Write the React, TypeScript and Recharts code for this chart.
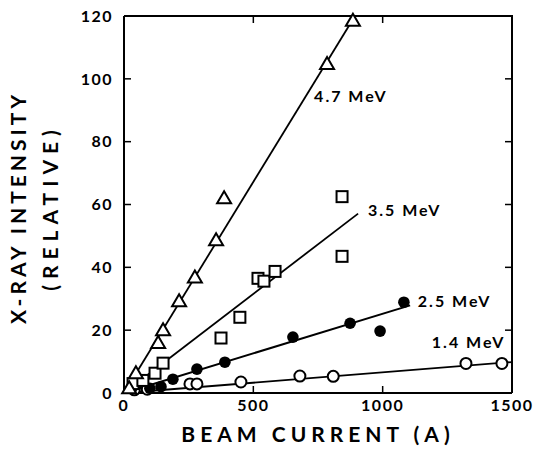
import React from 'react';
import { ComposedChart, Scatter, XAxis, YAxis } from 'recharts';

const xTicks = [0, 500, 1000, 1500];
const yTicks = [0, 20, 40, 60, 80, 100, 120];
const X_MAX = 1500;
const Y_MAX = 120;

const tri47 = [
  { x: 20, y: 1.5 }, { x: 46, y: 6.3 }, { x: 132, y: 15.9 }, { x: 151, y: 20 },
  { x: 213, y: 29.2 }, { x: 274, y: 36.8 }, { x: 356, y: 48.6 }, { x: 387, y: 62 },
  { x: 785, y: 104.7 }, { x: 885, y: 118.5 },
];
const sq35 = [
  { x: 35, y: 3 }, { x: 73, y: 4 }, { x: 120, y: 6.3 }, { x: 151, y: 9.5 },
  { x: 375, y: 17.5 }, { x: 448, y: 24.1 }, { x: 518, y: 36.5 }, { x: 541, y: 35.6 },
  { x: 584, y: 38.7 }, { x: 843, y: 43.5 }, { x: 843, y: 62.5 },
];
const dot25 = [
  { x: 30, y: 1.5 }, { x: 62, y: 3.5 }, { x: 100, y: 1.5 }, { x: 143, y: 2 },
  { x: 189, y: 4.4 }, { x: 282, y: 7.6 }, { x: 390, y: 9.8 }, { x: 653, y: 17.8 },
  { x: 874, y: 22.2 }, { x: 990, y: 19.7 }, { x: 1082, y: 28.9 },
];
const circ14 = [
  { x: 40, y: 1 }, { x: 90, y: 1.2 }, { x: 255, y: 2.9 }, { x: 282, y: 2.9 },
  { x: 452, y: 3.5 }, { x: 680, y: 5.4 }, { x: 809, y: 5.3 }, { x: 1322, y: 9.4 },
  { x: 1461, y: 9.4 },
];

const fit47 = [{ x: 0, y: 0 }, { x: 893, y: 120 }];
const fit35 = [{ x: 0, y: 0 }, { x: 905, y: 57.1 }];
const fit25 = [{ x: 0, y: 0 }, { x: 1106, y: 27.9 }];
const fit14 = [{ x: 0, y: 0 }, { x: 1500, y: 9.85 }];

const seriesLabels = [
  { x: 735, y: 94, text: '4.7 MeV' },
  { x: 943, y: 57.5, text: '3.5 MeV' },
  { x: 1136, y: 28.6, text: '2.5 MeV' },
  { x: 1190, y: 15.6, text: '1.4 MeV' },
];

const xTitle = 'BEAM CURRENT (A)';
const yTitle1 = 'X-RAY  INTENSITY';
const yTitle2 = '(RELATIVE)';

const framePts = [{ x: 0, y: Y_MAX }, { x: X_MAX, y: Y_MAX }, { x: X_MAX, y: 0 }];
const innerX = xTicks.slice(1, -1);
const innerY = yTicks.slice(1, -1);
const tickMarks = [
  ...innerX.map((x) => ({ x, y: 0, d: 'up' })),
  ...innerX.map((x) => ({ x, y: Y_MAX, d: 'down' })),
  ...innerY.map((y) => ({ x: 0, y, d: 'right' })),
  ...innerY.map((y) => ({ x: X_MAX, y, d: 'left' })),
];
const titleAnchors = [
  { x: X_MAX / 2, y: 0, d: 'x' },
  { x: 0, y: Y_MAX / 2, d: 'y' },
];

const FONT = 'Lato, "DejaVu Sans", sans-serif';

const Triangle = (p: any) => (
  <polygon
    points={`${p.cx},${p.cy - 7} ${p.cx - 7},${p.cy + 5} ${p.cx + 7},${p.cy + 5}`}
    fill="#fff" stroke="#000" strokeWidth={2}
  />
);
const Square = (p: any) => (
  <rect x={p.cx - 5.5} y={p.cy - 5.5} width={11} height={11} fill="#fff" stroke="#000" strokeWidth={2} />
);
const Dot = (p: any) => <circle cx={p.cx} cy={p.cy} r={5.8} fill="#000" />;
const Ring = (p: any) => <circle cx={p.cx} cy={p.cy} r={5.5} fill="#fff" stroke="#000" strokeWidth={2} />;
const NoShape = () => <g />;
const TickMark = (p: any) => {
  const d = p.payload.d;
  const dx = d === 'right' ? 7 : d === 'left' ? -7 : 0;
  const dy = d === 'up' ? -7 : d === 'down' ? 7 : 0;
  return <path d={`M${p.cx},${p.cy}L${p.cx + dx},${p.cy + dy}`} stroke="#000" strokeWidth={1.5} />;
};
const TextShape = (p: any) => (
  <text x={p.cx} y={p.cy} dominantBaseline="middle" fontFamily={FONT} fontWeight={700}
    fontSize={16} letterSpacing={2} fill="#000">{p.payload.text}</text>
);
const TitleShape = (p: any) => {
  if (p.payload.d === 'x') {
    return (
      <text x={p.cx} y={p.cy + 44} textAnchor="middle" dominantBaseline="middle"
        fontFamily={FONT} fontWeight={700} fontSize={21} letterSpacing={5} fill="#000">{xTitle}</text>
    );
  }
  const x1 = p.cx - 103;
  const x2 = p.cx - 71;
  const y = p.cy + 3;
  return (
    <g>
      <text x={x1} y={y} transform={`rotate(-90 ${x1} ${y})`} textAnchor="middle" dominantBaseline="middle"
        fontFamily={FONT} fontWeight={700} fontSize={21} letterSpacing={4} fill="#000">{yTitle1}</text>
      <text x={x2} y={y} transform={`rotate(-90 ${x2} ${y})`} textAnchor="middle" dominantBaseline="middle"
        fontFamily={FONT} fontWeight={700} fontSize={21} letterSpacing={6} fill="#000">{yTitle2}</text>
    </g>
  );
};

const tickStyle = { fill: '#000', fontFamily: FONT, fontWeight: 700, fontSize: 16, letterSpacing: 1.5 };

export default function App() {
  return (
    <div style={{ position: 'absolute', left: 0, top: 0 }}>
      <ComposedChart width={534} height={454} margin={{ top: 16, right: 22, bottom: 6, left: 0 }}>
        <XAxis type="number" dataKey="x" domain={[0, X_MAX]} ticks={xTicks}
          height={55} tickSize={0} tickMargin={7} tickLine={false}
          axisLine={{ stroke: '#000', strokeWidth: 2 }} tick={tickStyle} />
        <YAxis type="number" dataKey="y" domain={[0, Y_MAX]} ticks={yTicks}
          width={124} tickSize={0} tickMargin={11} tickLine={false}
          axisLine={{ stroke: '#000', strokeWidth: 2 }} tick={tickStyle} />

        <Scatter data={framePts} line={{ stroke: '#000', strokeWidth: 2 }} shape={NoShape} isAnimationActive={false} />
        <Scatter data={tickMarks} shape={TickMark} isAnimationActive={false} />

        <Scatter data={fit47} line={{ stroke: '#000', strokeWidth: 1.8 }} shape={NoShape} isAnimationActive={false} />
        <Scatter data={fit35} line={{ stroke: '#000', strokeWidth: 1.8 }} shape={NoShape} isAnimationActive={false} />
        <Scatter data={fit25} line={{ stroke: '#000', strokeWidth: 2 }} shape={NoShape} isAnimationActive={false} />
        <Scatter data={fit14} line={{ stroke: '#000', strokeWidth: 1.8 }} shape={NoShape} isAnimationActive={false} />

        <Scatter data={circ14} shape={Ring} isAnimationActive={false} />
        <Scatter data={dot25} shape={Dot} isAnimationActive={false} />
        <Scatter data={sq35} shape={Square} isAnimationActive={false} />
        <Scatter data={tri47} shape={Triangle} isAnimationActive={false} />
        <Scatter data={seriesLabels} shape={TextShape} isAnimationActive={false} />
        <Scatter data={titleAnchors} shape={TitleShape} isAnimationActive={false} />
      </ComposedChart>
    </div>
  );
}
